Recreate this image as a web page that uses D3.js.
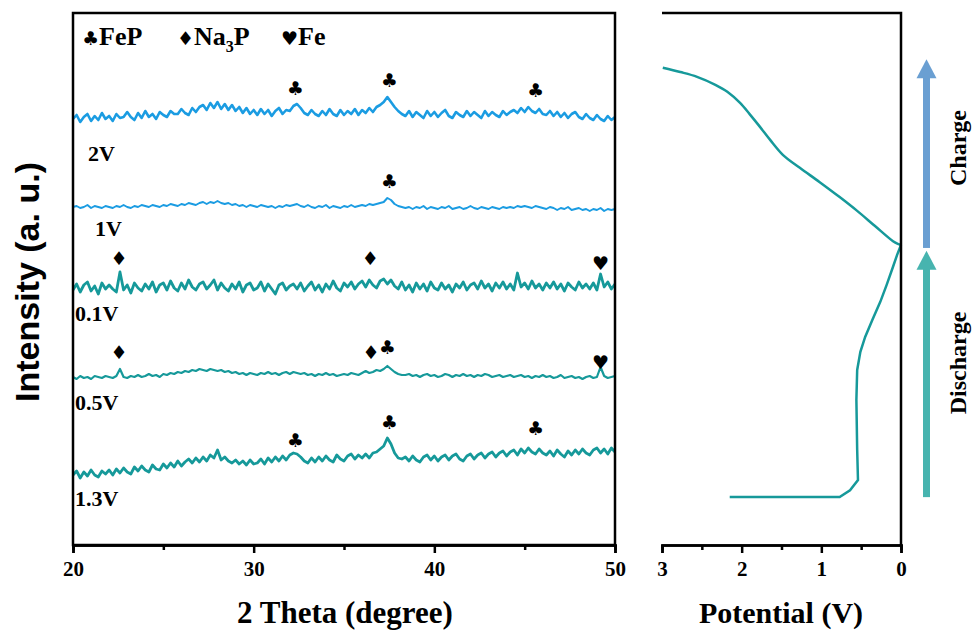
<!DOCTYPE html>
<html>
<head>
<meta charset="utf-8">
<script src="https://cdn.jsdelivr.net/npm/d3@7"></script>
<style>
body { margin: 0; background: #fff; }
text { font-family: "Times New Roman", "Liberation Serif", serif; font-weight: bold; }
</style>
</head>
<body>
<div id="chart"></div>
<script>
// 2 theta grid, 20 to 50 degree every 0.2
var twoTheta = d3.range(0, 151).map(function (i) { return 20 + i * 0.2; });

var labels = ["2V", "1V", "0.1V", "0.5V", "1.3V"];

// intensities (a. u.), stacked with offsets already in
var int2V = [426,430,423,428,431,424,429,425,432,426,429,
424,431,427,428,433,428,425,432,427,434,428,431,426,433,430,
428,434,431,431,436,432,430,437,433,438,
440,435,442,437,443,436,441,
435,440,434,438,432,437,431,435,
430,436,431,435,429,434,437,431,435,434,
439,441,
437,432,430,435,431,429,434,430,436,431,429,435,430,434,431,436,430,435,
432,437,433,438,440,443,
448,443,
438,434,431,
429,434,428,433,430,427,434,429,433,428,432,435,429,427,433,430,428,434,429,433,430,427,434,429,433,430,428,434,430,
433,435,432,437,433,438,434,432,436,431,
430,434,429,433,428,432,427,431,433,428,426,431,427,425,430,426,424,429,425,428];

var int1V = [338,339,337,338,340,337,339,338,337,339,338,
337,339,338,340,338,337,339,338,340,339,338,340,339,338,340,
339,341,340,339,341,340,342,341,340,342,
343,341,343,342,344,342,341,
342,340,341,339,340,338,340,339,
338,340,339,338,339,337,339,338,340,339,
340,341,
339,338,340,338,337,339,338,340,337,339,338,337,339,338,340,338,339,340,
339,341,340,341,342,343,
347,345,
341,339,338,
337,338,336,338,337,339,336,338,337,336,338,337,339,336,337,338,336,337,339,337,336,338,337,336,338,337,336,338,337,
338,337,339,338,339,338,337,339,338,337,
336,338,337,335,337,336,338,335,336,337,335,336,334,336,335,337,334,336,335,336];

var int01V = [255,261,253,260,263,254,259,251,262,256,260,
256,253,273,255,260,252,262,257,254,261,256,263,253,260,262,
255,264,257,254,262,256,265,258,255,261,
263,256,260,265,255,262,257,
254,261,256,263,253,260,262,255,
257,263,254,261,256,251,260,262,255,259,
261,256,
262,254,259,263,255,260,253,261,256,264,257,254,262,258,263,256,261,264,
258,265,260,257,264,266,
261,265,
259,256,263,
255,260,253,262,256,261,254,263,257,255,262,256,260,253,261,257,263,255,260,262,256,264,257,261,254,262,257,263,256,
261,255,272,258,262,256,264,257,261,255,
262,257,263,256,261,254,262,258,255,263,257,261,256,262,255,271,258,263,256,261];

var int05V = [168,166,169,167,168,166,169,168,167,169,168,
167,169,176,168,167,169,168,170,168,169,171,169,170,168,171,
170,172,171,173,172,174,173,175,174,176,
175,174,176,175,174,175,173,
174,172,173,171,172,170,172,171,
170,172,171,173,171,172,170,172,173,171,
173,172,
171,172,170,171,169,171,170,172,170,171,169,170,171,170,172,171,170,172,
174,172,173,175,174,176,
179,176,
173,171,170,
170,171,169,170,168,170,171,169,170,168,169,171,170,168,170,169,171,169,170,168,170,169,171,170,168,169,170,168,169,
170,168,169,170,168,169,167,169,168,170,
168,169,167,168,170,167,168,169,167,168,166,168,169,167,168,178,169,167,168,169];

var int13V = [70,74,67,73,69,75,70,68,74,71,75,
70,76,72,77,73,71,78,74,79,75,73,80,76,75,81,
77,82,78,84,79,83,86,82,87,83,
88,84,90,87,95,85,88,
84,82,85,81,84,80,85,81,
82,86,81,87,83,88,84,89,85,90,
92,91,
88,84,82,87,83,88,84,89,85,83,90,86,84,89,91,86,90,87,
91,87,92,93,96,99,
107,101,
92,87,86,
88,84,89,85,83,88,90,85,89,84,88,90,85,89,91,86,84,89,91,86,90,92,87,91,93,88,92,94,89,
93,95,90,96,92,97,93,91,96,92,
90,94,89,95,91,88,94,90,95,91,96,92,90,95,97,92,96,91,97,93];

var seriesInt = [int2V, int1V, int01V, int05V, int13V];
var seriesColor = ["#1b9ce2", "#1b9ce2", "#16999a", "#16999a", "#16999a"];
var seriesWidth = [2.6, 2, 2.8, 2.2, 2.8];

// phase marks: 2 theta, intensity level, symbol
var markTheta = [32.3, 37.5, 45.6, 37.5, 22.55, 36.45, 49.2, 22.55, 36.5, 37.4, 49.2, 32.3, 37.5, 45.6];
var markInt   = [457, 465, 455, 364, 287, 287, 282, 193, 193, 198, 183, 105, 123, 117];
var markSym   = ["\u2663","\u2663","\u2663","\u2663","\u2666","\u2666","\u2665","\u2666","\u2666","\u2663","\u2665","\u2663","\u2663","\u2663"];

// discharge / charge curve: potential (V) vs progress (%)
var potDischarge = [2.15, 0.77, 0.64, 0.54, 0.55, 0.56, 0.55, 0.51, 0.45, 0.36, 0.26, 0.18, 0.10, 0.05, 0.01, 0.0];
var progDischarge = [9.0, 9.0, 10.3, 12.2, 17.9, 27.3, 32.9, 36.3, 39.1, 42.3, 45.7, 48.9, 52.3, 54.5, 56.0, 56.4];
var potCharge = [0.0, 0.04, 0.10, 0.33, 0.55, 0.77, 1.02, 1.27, 1.48, 1.64, 1.77, 1.90, 2.02, 2.18, 2.33, 2.56, 2.77, 2.99];
var progCharge = [56.4, 56.6, 57.1, 60.0, 62.8, 65.4, 68.2, 70.9, 73.3, 76.1, 78.6, 81.0, 83.1, 85.2, 86.5, 88.0, 88.9, 89.7];

var w = 974;
var h = 639;

var svg = d3.select("#chart")
    .append("svg")
    .attr("width", w)
    .attr("height", h);

// ---- left panel: XRD ----
var x = d3.scaleLinear().domain([20, 50]).range([73, 615]);
var y = d3.scaleLinear().domain([0, 532]).range([545, 13]);

var line = d3.line()
    .x(function (d) { return x(d[0]); })
    .y(function (d) { return y(d[1]); });

seriesInt.forEach(function (vals, k) {
    svg.append("path")
        .datum(d3.zip(twoTheta, vals))
        .attr("fill", "none")
        .attr("stroke", seriesColor[k])
        .attr("stroke-width", seriesWidth[k])
        .attr("stroke-linejoin", "round")
        .attr("d", line);
});

// series labels
var labelX = [88, 95, 75, 75, 75];
var labelY = [161, 236, 321, 410, 506];
svg.selectAll(".lab")
    .data(labels)
    .enter()
    .append("text")
    .attr("class", "lab")
    .attr("x", function (d, i) { return labelX[i]; })
    .attr("y", function (d, i) { return labelY[i]; })
    .style("font-size", "22px")
    .text(function (d) { return d; });

// phase symbols
svg.selectAll(".mark")
    .data(markTheta)
    .enter()
    .append("text")
    .attr("class", "mark")
    .attr("x", function (d) { return x(d); })
    .attr("y", function (d, i) { return y(markInt[i]); })
    .attr("text-anchor", "middle")
    .attr("dy", "0.35em")
    .style("font-family", "DejaVu Sans")
    .style("font-size", "19px")
    .text(function (d, i) { return markSym[i]; });

// legend
var legend = svg.append("text")
    .attr("y", 45)
    .style("font-size", "26px");
legend.append("tspan").attr("x", 82).style("font-family", "DejaVu Sans").style("font-size", "19px").text("\u2663");
legend.append("tspan").text("FeP");
legend.append("tspan").attr("x", 177).style("font-family", "DejaVu Sans").style("font-size", "19px").text("\u2666");
legend.append("tspan").text("Na");
legend.append("tspan").attr("dy", 7).style("font-size", "16px").text("3");
legend.append("tspan").attr("dy", -7).text("P");
legend.append("tspan").attr("x", 281).style("font-family", "DejaVu Sans").style("font-size", "19px").text("\u2665");
legend.append("tspan").text("Fe");

// frame
svg.append("rect")
    .attr("x", 73).attr("y", 13)
    .attr("width", 542).attr("height", 532)
    .attr("fill", "none")
    .attr("stroke", "#000")
    .attr("stroke-width", 2.5);

svg.append("g")
    .attr("transform", "translate(0,545)")
    .call(d3.axisBottom(x).tickValues([20, 30, 40, 50]).tickSize(8).tickPadding(8));
svg.append("g")
    .attr("transform", "translate(0,545)")
    .call(d3.axisBottom(x).tickValues([25, 35, 45]).tickSize(5).tickFormat(""));

// ---- right panel: potential ----
var xr = d3.scaleLinear().domain([3, 0]).range([662, 901]);
var yr = d3.scaleLinear().domain([0, 100]).range([545, 13]);

var vline = d3.line()
    .x(function (d) { return xr(d[0]); })
    .y(function (d) { return yr(d[1]); });

svg.append("path")
    .datum(d3.zip(potDischarge, progDischarge))
    .attr("fill", "none")
    .attr("stroke", "#16999a")
    .attr("stroke-width", 2.5)
    .attr("d", vline.curve(d3.curveLinear));

svg.append("path")
    .datum(d3.zip(potCharge, progCharge))
    .attr("fill", "none")
    .attr("stroke", "#16999a")
    .attr("stroke-width", 2.5)
    .attr("d", vline.curve(d3.curveCatmullRom.alpha(0.5)));

// top and right border
svg.append("path")
    .attr("d", "M" + xr(3) + "," + yr(100) + "H" + xr(0) + "V" + yr(0))
    .attr("fill", "none")
    .attr("stroke", "#000")
    .attr("stroke-width", 2.5);

svg.append("g")
    .attr("transform", "translate(0,545)")
    .call(d3.axisBottom(xr).tickValues([3, 2, 1, 0]).tickSize(8).tickPadding(8).tickFormat(d3.format("d")));
svg.append("g")
    .attr("transform", "translate(0,545)")
    .call(d3.axisBottom(xr).tickValues([2.5, 1.5, 0.5]).tickSize(5).tickFormat(""));

svg.selectAll(".domain").attr("stroke-width", 2.5).attr("stroke", "#000");
svg.selectAll(".tick line").attr("stroke-width", 2.5).attr("stroke", "#000");
svg.selectAll(".tick text")
    .style("font-family", "'Times New Roman', 'Liberation Serif', serif")
    .style("font-weight", "bold")
    .style("font-size", "21px")
    .attr("fill", "#000");

// arrows
function arrow(yBottom, yTip, color) {
    var g = svg.append("g");
    g.append("rect")
        .attr("x", 923).attr("y", yTip + 18)
        .attr("width", 7).attr("height", yBottom - yTip - 18)
        .attr("fill", color);
    g.append("path")
        .attr("d", "M916.5," + (yTip + 19) + "L926.5," + yTip + "L936.5," + (yTip + 19) + "Z")
        .attr("fill", color);
}
arrow(yr(56.4) + 3, yr(91.3), "#6a9fd2");
arrow(yr(9.0), yr(55.3), "#47b4af");

svg.append("text")
    .attr("transform", "translate(966,148) rotate(-90)")
    .attr("text-anchor", "middle")
    .style("font-size", "24px")
    .text("Charge");
svg.append("text")
    .attr("transform", "translate(966,363) rotate(-90)")
    .attr("text-anchor", "middle")
    .style("font-size", "24px")
    .text("Discharge");

// axis titles
svg.append("text")
    .attr("x", 345).attr("y", 623)
    .attr("text-anchor", "middle")
    .style("font-size", "31px")
    .text("2 Theta (degree)");
svg.append("text")
    .attr("x", 781).attr("y", 623)
    .attr("text-anchor", "middle")
    .style("font-size", "30px")
    .text("Potential (V)");
svg.append("text")
    .attr("transform", "translate(39,282) rotate(-90)")
    .attr("text-anchor", "middle")
    .style("font-family", "Arial, 'Liberation Sans', sans-serif")
    .style("font-size", "34px")
    .text("Intensity (a. u.)");
</script>
</body>
</html>
